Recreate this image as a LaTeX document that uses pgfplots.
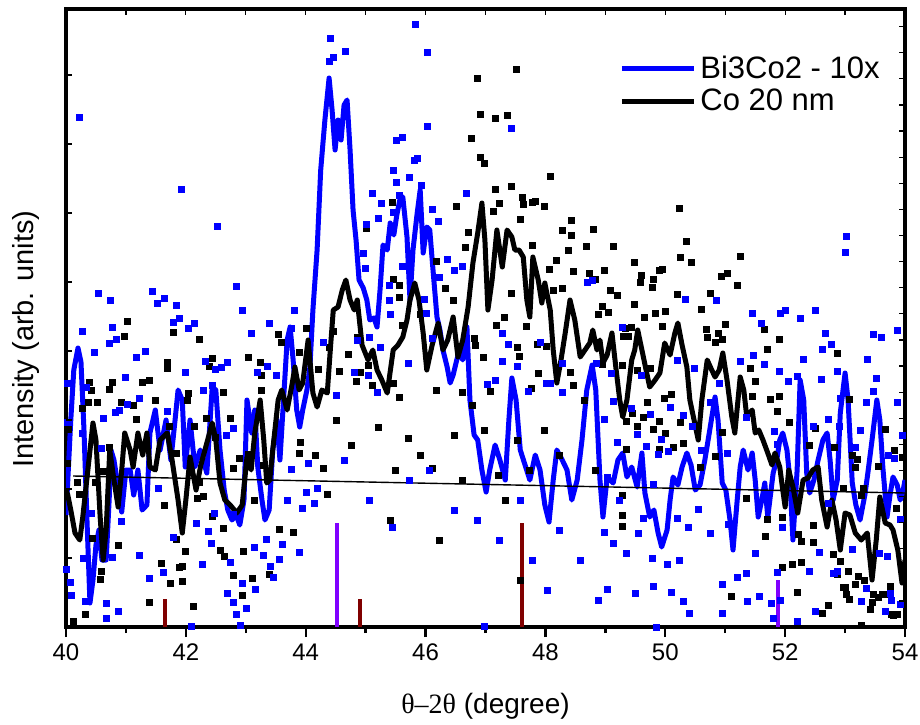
\documentclass[border=0pt]{standalone}
\usepackage{fontspec}
\setmainfont{Liberation Sans}
\newfontfamily\seriffont{Liberation Serif}
\usepackage{pgfplots}
\pgfplotsset{compat=1.18}
\definecolor{cblue}{RGB}{0,0,255}
\definecolor{stickred}{RGB}{128,0,0}
\definecolor{stickpurple}{RGB}{128,0,255}
\begin{document}
\begin{tikzpicture}
\begin{axis}[
  scale only axis, width=419.5pt, height=309pt,
  xmin=40, xmax=54, ymin=0, ymax=618,
  axis line style={line width=2pt},
  xtick={40,42,...,54}, minor xtick={41,43,...,53},
  ytick=\empty,
  xtick pos=bottom, xtick align=outside,
  major tick length=5pt, minor tick length=3pt,
  xtick style={line width=1.2pt, black},
  /pgf/number format/assume math mode=true,
  xticklabel style={font=\fontsize{12}{14}\selectfont},
  xlabel={{\seriffont θ–2θ} (degree)},
  ylabel={Intensity (arb. units)},
  xlabel style={font=\fontsize{14}{17}\selectfont, at={(axis description cs:0.5,-0.128)}, anchor=center},
  ylabel style={font=\fontsize{14.5}{17}\selectfont, at={(axis description cs:-0.0477,0.466)}, anchor=center},
  legend style={at={(axis description cs:0.652,0.938)}, anchor=north west, draw=none, fill=none,
    font=\fontsize{15.5}{17}\selectfont, row sep=0pt,
    /tikz/every even column/.append style={column sep=0pt}},
  legend cell align=left,
  legend image code/.code={\draw[#1] (0pt,0pt) -- (36pt,0pt);},
]
\coordinate (SW) at (rel axis cs:0,0);
\coordinate (NE) at (rel axis cs:1,1);
% black raw points
\addplot[only marks, mark=square*, mark size=1.5pt, black, mark options={line width=0pt}, forget plot] coordinates {
(41.03,306)(40.97,291)(41.27,245)(41.40,247)(41.69,265)(41.70,259)(41.79,295)(42.22,288)(42.45,269)(42.39,261)(43.05,270)(43.24,265)(43.27,252)(43.27,237)(42.62,235)(42.35,209)(42.75,209)(42.04,234)(42.02,227)(41.17,208)(41.50,227)(41.13,222)(40.92,225)(40.77,245)(40.72,238)(40.52,225)(40.43,237)(40.40,245)(40.37,225)(40.27,219)(40.05,198)(40.62,156)(40.72,180)(40.50,145)(40.20,145)(40.23,133)(40.03,164)(41.72,201)(41.85,174)(42.15,201)(42.49,190)(42.80,159)(42.89,169)(43.05,173)(43.29,162)(43.54,293)(43.59,285)(43.89,275)(44.02,299)(44.21,258)(44.39,280)(44.46,296)(44.56,256)(44.71,273)(44.84,246)(44.87,290)(41.65,122)(42.22,145)(42.29,131)(42.19,129)(43.14,127)(43.92,185)(43.89,174)(44.17,172)(44.29,159)(44.37,133)(43.94,119)(43.79,95)(43.57,98)(43.39,53)(43.12,49)(42.95,32)(42.79,52)(42.65,71)(42.57,77)(42.97,76)(42.62,99)(42.45,111)(42.00,76)(41.94,61)(41.89,60)(41.94,46)(41.75,44)(41.60,64)(41.39,25)(42.12,21)(40.87,82)(40.60,56)(40.57,48)(40.45,89)(40.32,13)(40.12,6)(41.85,88)
(47.51,557)(46.86,548)(46.92,513)(47.16,509)(47.36,512)(46.77,489)(46.91,470)(46.99,464)(48.09,451)(47.17,438)(47.43,441)(47.61,430)(47.64,423)(47.78,425)(47.84,426)(47.98,421)(47.23,424)(46.52,421)(47.13,416)(47.58,408)(48.44,407)(48.29,397)(48.43,392)(48.81,398)(46.71,395)(46.66,380)(48.38,377)(47.78,382)(48.68,381)(49.13,381)(48.19,367)(49.49,365)(48.06,358)(48.46,356)(48.73,354)(48.98,357)(49.61,352)(49.81,348)(49.91,357)(49.59,345)(49.78,340)(48.83,348)(45.46,348)(45.56,342)(45.01,399)(45.44,425)(47.44,334)(49.08,337)(49.21,332)(48.96,321)(48.88,313)(49.49,323)(49.66,310)(49.84,314)(48.13,337)(48.28,339)(46.34,339)(46.46,327)(46.19,366)(45.62,302)(45.92,313)(47.31,310)(47.19,302)(47.86,283)(48.01,281)(47.69,301)(46.84,282)(46.81,289)(46.96,270)(47.54,280)(47.56,271)(46.61,235)(47.09,236)(47.76,239)(47.89,254)(48.46,242)(48.41,255)(49.29,262)(49.38,291)(49.33,299)(49.53,257)(49.76,259)(45.57,330)(46.19,237)(44.92,255)(45.12,242)(45.46,244)(45.57,230)(45.04,262)
(44.52,207)(44.77,182)(45.21,200)(45.49,157)(45.71,189)(45.91,172)(46.12,159)(46.49,192)(46.61,147)(46.79,222)(46.99,197)(47.21,152)(47.33,127)(47.54,187)(47.74,157)(47.99,197)(48.24,172)(48.66,227)(48.83,157)(45.41,107)(46.24,87)(47.58,47)
(50.23,419)(50.36,386)(50.26,370)(50.43,365)(51.25,371)(51.03,354)(50.93,351)(49.95,358)(50.20,333)(50.75,334)(51.21,342)(49.06,315)(50.01,316)(50.61,318)(51.01,303)(49.96,301)(49.44,300)(50.68,298)(50.88,294)(50.71,290)(50.83,285)(50.96,288)(51.66,298)(51.71,278)(51.91,288)(52.87,274)(51.43,259)(51.50,246)(51.46,231)(51.75,228)(51.90,231)(51.88,216)(52.08,205)(49.31,291)(48.96,263)(50.11,233)(49.98,229)(49.71,225)(49.64,210)(49.46,214)(49.36,206)(49.54,201)(49.80,198)(50.00,194)(49.91,206)(50.26,205)(50.13,180)(49.90,178)(50.30,184)(49.36,178)(50.58,160)(50.83,171)(50.96,195)(51.35,129)(49.28,132)(49.28,112)(49.28,101)(51.71,108)(51.68,91)(51.96,110)(52.23,93)(52.28,86)(51.96,60)(52.13,63)(52.28,65)(52.48,102)(52.48,85)(52.41,182)(52.51,199)(52.82,180)(53.13,172)(53.18,160)(53.67,198)(53.55,161)(53.83,177)(53.95,170)(52.80,73)(52.92,66)(53.05,56)(53.22,51)(53.32,47)(52.87,53)(53.00,40)(53.08,28)(53.17,43)(53.28,2)(53.42,18)(53.45,25)(53.47,33)(53.55,30)(53.70,33)(53.75,41)(53.78,13)(53.88,13)(52.20,35)(52.72,22)(52.63,14)(51.10,31)(53.08,228)(53.20,168)(52.98,139)(53.28,132)(53.30,139)(53.85,119)(52.97,40)(53.02,33)(53.63,33)(53.80,12)
};
% blue raw points
\addplot[only marks, mark=square*, mark size=1.5pt, cblue, mark options={line width=0pt}, forget plot] coordinates {
(40.23,510)(41.92,438)(42.52,401)(42.84,341)(40.55,334)(40.75,327)(41.44,336)(41.52,324)(41.64,329)(41.85,322)(45.84,602)(44.41,588)(44.66,575)(44.47,569)(44.39,565)(40.28,296)(40.48,275)(40.73,284)(40.78,300)(40.85,288)(41.00,250)(41.17,270)(41.22,229)(41.33,276)(41.79,305)(41.89,309)(42.04,299)(42.15,304)(42.00,255)(42.32,266)(42.49,258)(42.59,260)(42.70,265)(42.95,317)(43.10,294)(43.39,304)(43.20,255)(43.37,261)(43.52,252)(40.28,194)(40.03,205)(40.02,244)(40.63,209)(40.90,217)(41.03,223)(40.82,215)(41.69,216)(42.30,237)(42.45,242)(42.67,192)(42.80,199)(43.77,299)(43.82,317)(44.29,285)(44.81,255)(44.87,287)(44.52,232)(40.60,179)(41.55,139)(42.47,114)(42.79,113)(43.69,127)(43.77,158)(44.05,164)(44.02,135)(44.19,139)(44.15,124)(43.94,119)(40.93,106)(41.79,90)(41.23,72)(42.37,96)(42.42,84)(42.17,104)(42.75,65)(42.27,63)(43.14,80)(43.29,72)(43.35,88)(43.62,83)(43.57,68)(43.90,75)(43.42,61)(43.47,50)(42.94,44)(43.17,38)(42.69,34)(42.79,25)(43.02,19)(42.85,13)(40.30,69)(40.00,58)(40.07,45)(40.10,32)(40.33,26)(40.68,24)(40.67,9)(40.87,16)(41.40,49)(41.62,55)(42.09,1)(42.92,2)
(46.04,574)(46.04,501)(45.51,487)(45.62,490)(45.82,467)(45.86,469)(45.46,457)(45.52,445)(45.74,450)(45.94,442)(45.12,434)(45.57,432)(45.27,424)(45.47,415)(45.22,409)(45.01,403)(46.12,418)(46.21,406)(46.69,434)(47.43,499)(46.37,368)(46.62,361)(46.49,357)(44.99,359)(44.96,374)(45.62,361)(45.39,342)(45.39,327)(45.42,313)(46.24,350)(45.99,328)(46.01,314)(45.71,264)(45.19,235)(45.24,280)(45.07,290)(46.11,289)(47.28,294)(47.38,283)(47.29,266)(47.54,261)(47.03,243)(47.16,247)(47.71,236)(47.91,285)(48.01,244)(48.08,244)(48.28,264)(48.29,235)(48.71,345)(48.78,347)(49.28,300)(49.61,252)(49.11,254)(48.86,264)(45.04,252)
(44.64,167)(45.07,127)(45.44,100)(46.87,107)(47.24,87)(47.58,127)(47.78,67)(48.04,37)(48.24,97)(48.58,67)(48.88,27)(46.99,1)(46.07,157)(46.49,117)(45.74,147)
(53.03,391)(53.00,375)(50.33,328)(50.85,327)(51.45,314)(51.93,314)(52.01,317)(52.25,309)(52.51,317)(53.87,297)(53.48,293)(53.60,290)(52.68,294)(52.78,283)(52.63,278)(51.60,304)(51.48,272)(51.65,263)(51.26,266)(51.91,256)(52.05,246)(52.21,251)(52.31,268)(52.60,248)(52.87,256)(53.38,268)(53.47,236)(53.52,249)(53.88,225)(50.20,267)(50.48,259)(49.13,226)(48.98,208)(49.44,219)(49.76,213)(50.08,220)(50.30,212)(50.45,201)(50.76,225)(50.91,244)(49.53,193)(49.93,188)(49.21,185)(49.69,181)(49.88,173)(50.05,176)(50.61,177)(51.03,174)(51.36,210)(51.83,196)(51.88,183)(52.48,201)(52.72,208)(52.90,201)(52.93,229)(53.35,225)(53.25,197)(53.18,180)(53.72,172)(53.82,169)(49.81,143)(49.23,127)(49.04,150)(50.55,118)(50.20,109)(49.63,109)(50.38,100)(49.13,84)(48.99,95)(49.36,74)(49.56,94)(49.78,69)(50.23,67)(50.03,63)(50.75,94)(51.05,103)(51.51,74)(51.96,100)(52.41,56)(52.58,75)(52.80,54)(53.13,78)(53.35,39)(53.27,26)(53.57,74)(53.70,71)(53.78,27)(53.92,23)(53.67,16)(51.21,50)(51.35,54)(50.96,43)(51.38,26)(51.58,31)(51.78,24)(51.80,9)(50.95,14)(51.93,27)(51.88,55)(52.20,6)(52.50,16)(52.87,56)(49.04,38)(49.51,34)(49.80,41)(50.11,35)(50.31,26)(50.41,14)(49.86,0)(53.75,34)(53.95,192)(53.92,108)(52.72,124)(52.83,54)(40.35,240)(40.43,114)(40.77,70)
};
% Bi3Co2 - 10x smoothed
\addplot[cblue, line width=2.5pt, line join=round, mark=none] coordinates {
(40.00,112)(40.03,147)(40.08,207)(40.13,257)(40.20,279)(40.25,265)(40.30,197)(40.35,107)(40.40,24)(40.45,47)(40.50,82)(40.55,97)(40.60,67)(40.67,67)(40.72,127)(40.75,177)(40.80,167)(40.87,140)(40.93,115)(41.00,157)(41.07,157)(41.13,132)(41.20,157)(41.27,117)(41.35,122)(41.40,194)(41.49,217)(41.57,177)(41.67,207)(41.75,167)(41.82,207)(41.87,237)(41.94,227)(41.99,160)(42.07,207)(42.15,160)(42.24,177)(42.35,154)(42.44,240)(42.50,237)(42.57,177)(42.64,137)(42.70,117)(42.77,107)(42.84,112)(42.90,102)(42.97,127)(43.02,227)(43.10,194)(43.15,217)(43.20,160)(43.27,127)(43.32,107)(43.39,117)(43.45,177)(43.52,207)(43.57,167)(43.62,217)(43.69,287)(43.74,300)(43.79,267)(43.85,217)(43.90,200)(43.95,217)(44.02,237)(44.07,260)(44.12,317)(44.19,377)(44.25,457)(44.32,507)(44.39,549)(44.44,517)(44.49,477)(44.54,507)(44.59,487)(44.64,522)(44.69,527)(44.74,477)(44.79,417)(44.84,387)(44.89,347)(44.96,339)(45.02,327)(45.07,307)(45.14,309)(45.19,300)(45.24,337)(45.29,382)(45.36,377)(45.41,404)(45.47,392)(45.52,412)(45.57,427)(45.62,430)(45.69,390)(45.74,327)(45.79,377)(45.86,414)(45.91,437)(45.96,374)(46.02,400)(46.07,397)(46.12,360)(46.19,310)(46.24,297)(46.29,277)(46.36,260)(46.41,244)(46.46,252)(46.52,267)(46.57,277)(46.62,267)(46.69,300)(46.74,227)(46.81,192)(46.87,187)(46.94,157)(47.01,135)(47.07,157)(47.16,182)(47.24,167)(47.33,147)(47.39,207)(47.44,249)(47.51,227)(47.58,177)(47.66,162)(47.74,147)(47.83,172)(47.91,157)(47.99,122)(48.06,105)(48.13,147)(48.19,177)(48.28,167)(48.36,157)(48.44,127)(48.53,147)(48.61,187)(48.69,237)(48.78,262)(48.84,237)(48.91,147)(48.96,110)(49.03,150)(49.13,144)(49.21,167)(49.29,174)(49.36,150)(49.44,160)(49.53,140)(49.61,174)(49.66,134)(49.74,110)(49.81,117)(49.88,94)(49.94,80)(50.03,97)(50.08,127)(50.13,150)(50.21,142)(50.28,160)(50.36,174)(50.43,162)(50.50,137)(50.58,142)(50.66,167)(50.75,200)(50.83,230)(50.88,207)(50.95,144)(51.01,137)(51.08,107)(51.13,77)(51.20,127)(51.25,160)(51.30,177)(51.38,157)(51.45,174)(51.50,147)(51.55,110)(51.61,127)(51.66,144)(51.71,110)(51.80,154)(51.86,167)(51.91,187)(51.96,194)(52.03,177)(52.08,147)(52.13,87)(52.20,157)(52.25,247)(52.31,227)(52.36,154)(52.41,134)(52.48,147)(52.55,167)(52.63,187)(52.70,194)(52.75,167)(52.80,127)(52.87,147)(52.92,214)(53.00,254)(53.05,227)(53.12,144)(53.18,122)(53.25,107)(53.33,132)(53.38,154)(53.45,187)(53.53,227)(53.58,207)(53.63,160)(53.70,110)(53.75,132)(53.80,150)(53.87,142)(53.92,127)(53.97,137)(54.00,147)
};
\addlegendentry{Bi3Co2 - 10x}
% Co 20 nm smoothed
\addplot[black, line width=2.5pt, line join=round, mark=none] coordinates {
(40.00,137)(40.03,132)(40.08,117)(40.15,94)(40.23,87)(40.28,110)(40.37,160)(40.45,204)(40.50,187)(40.57,110)(40.62,67)(40.67,97)(40.73,177)(40.80,147)(40.87,120)(40.93,157)(40.98,194)(41.07,177)(41.12,160)(41.20,194)(41.28,172)(41.35,194)(41.40,160)(41.49,157)(41.57,187)(41.69,194)(41.77,167)(41.87,127)(41.94,94)(42.00,127)(42.07,170)(42.17,137)(42.25,162)(42.35,184)(42.44,204)(42.50,187)(42.57,144)(42.65,127)(42.74,122)(42.85,114)(42.94,122)(43.02,170)(43.09,157)(43.15,194)(43.24,227)(43.30,187)(43.35,144)(43.40,147)(43.45,177)(43.54,227)(43.60,237)(43.69,217)(43.77,242)(43.82,260)(43.89,237)(43.95,244)(44.04,287)(44.12,234)(44.19,220)(44.27,237)(44.36,234)(44.41,277)(44.46,317)(44.54,320)(44.61,337)(44.67,347)(44.74,327)(44.81,317)(44.86,327)(44.94,282)(45.04,267)(45.12,277)(45.19,257)(45.27,247)(45.36,234)(45.46,277)(45.54,282)(45.62,290)(45.69,307)(45.74,327)(45.82,344)(45.89,327)(45.96,294)(46.02,257)(46.11,282)(46.21,304)(46.29,277)(46.37,287)(46.46,310)(46.54,270)(46.62,287)(46.71,320)(46.79,364)(46.87,394)(46.94,424)(46.99,387)(47.04,317)(47.11,347)(47.19,397)(47.28,360)(47.36,397)(47.44,390)(47.49,377)(47.56,377)(47.63,370)(47.69,327)(47.74,310)(47.79,370)(47.88,347)(47.94,324)(47.99,344)(48.08,317)(48.13,277)(48.19,244)(48.26,267)(48.33,294)(48.41,327)(48.49,307)(48.58,270)(48.66,277)(48.74,284)(48.79,297)(48.86,277)(48.91,287)(48.96,264)(49.03,272)(49.11,294)(49.18,257)(49.24,227)(49.29,210)(49.36,227)(49.44,267)(49.49,277)(49.54,297)(49.61,277)(49.69,254)(49.74,240)(49.83,247)(49.91,254)(49.99,284)(50.08,272)(50.16,294)(50.21,304)(50.28,282)(50.36,260)(50.41,227)(50.48,207)(50.55,187)(50.61,227)(50.70,267)(50.76,259)(50.83,250)(50.90,257)(50.96,274)(51.03,247)(51.11,210)(51.16,194)(51.25,250)(51.31,237)(51.36,210)(51.45,217)(51.50,194)(51.56,197)(51.63,187)(51.71,174)(51.78,162)(51.83,174)(51.91,160)(51.96,137)(52.00,120)(52.06,157)(52.13,140)(52.21,114)(52.30,147)(52.38,149)(52.46,157)(52.55,160)(52.61,127)(52.70,100)(52.78,127)(52.85,107)(52.92,77)(53.00,114)(53.08,112)(53.17,94)(53.27,87)(53.37,94)(53.45,47)(53.52,87)(53.58,130)(53.67,104)(53.75,102)(53.80,97)(53.88,77)(53.95,44)(54.00,67)
};
\addlegendentry{Co 20 nm}
% thin background line
\addplot[black, line width=0.7pt, forget plot] coordinates {(40.12,151)(54.00,134)};
% reference sticks
\addplot[ycomb, stickred, line width=2pt, mark=none, forget plot] coordinates {(41.65,28)(44.91,28)(47.61,104)};
\addplot[ycomb, stickpurple, line width=2pt, mark=none, forget plot] coordinates {(44.52,104)(51.88,47)};
\end{axis}
% extra inner ticks: top and left
\begin{axis}[
  scale only axis, width=419.5pt, height=309pt,
  xmin=40, xmax=54, ymin=0, ymax=618,
  axis line style={draw=none},
  xtick={40,41,...,54}, xticklabels={},
  ytick={69,138,207,276,345,414,483,552}, yticklabels={},
  xtick pos=top, ytick pos=left, tick align=inside,
  major tick length=3pt,
  tick style={line width=0.6pt, black},
]
\end{axis}
% extra inner ticks: right
\begin{axis}[
  scale only axis, width=419.5pt, height=309pt,
  xmin=40, xmax=54, ymin=0, ymax=618,
  axis line style={draw=none},
  xtick=\empty,
  ytick={26.1,52.2,78.3,104.4,130.5,156.6,182.7,208.8,234.9,261,287.1,313.2,339.3,365.4,391.5,417.6,443.7,469.8,495.9,522,548.1,574.2,600.3}, yticklabels={},
  ytick pos=right, tick align=inside,
  major tick length=3pt,
  tick style={line width=0.6pt, black},
]
\end{axis}
\pgfresetboundingbox
\path[use as bounding box] ([xshift=-33pt,yshift=-48.5pt]SW) rectangle ([xshift=7.5pt,yshift=4.5pt]NE);
\end{tikzpicture}
\end{document}
